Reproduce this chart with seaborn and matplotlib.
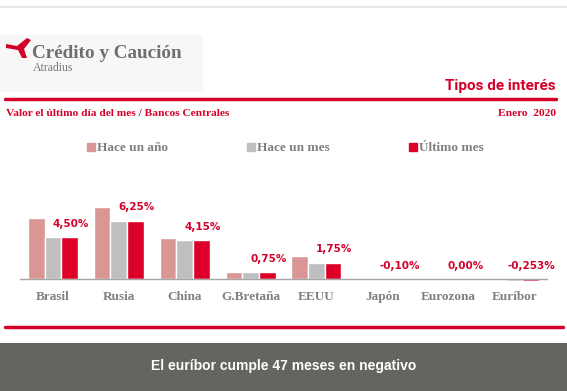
import numpy as np
import pandas as pd
import matplotlib.pyplot as plt
from matplotlib.patches import Rectangle, Polygon
from matplotlib.lines import Line2D
import seaborn as sns

# data (tipos de interés, enero 2020)
paises = ["Brasil", "Rusia", "China", "G.Bretaña", "EEUU", "Japón", "Eurozona", "Euríbor"]
hace_un_anio = [6.50, 7.75, 4.35, 0.75, 2.50, -0.10, 0.00, -0.117]
hace_un_mes = [4.50, 6.25, 4.15, 0.75, 1.75, -0.10, 0.00, -0.249]
ultimo_mes = [4.50, 6.25, 4.15, 0.75, 1.75, -0.10, 0.00, -0.253]
etiquetas = ["4,50%", "6,25%", "4,15%", "0,75%", "1,75%", "-0,10%", "0,00%", "-0,253%"]
series = ["Hace un año", "Hace un mes", "Último mes"]
colores = ["#d99694", "#bfbfbf", "#dc0028"]

rojo = "#d4002a"
gris_txt = "#7f7f7f"

df = pd.DataFrame({"pais": paises, series[0]: hace_un_anio,
                   series[1]: hace_un_mes, series[2]: ultimo_mes})
df = df.melt(id_vars="pais", var_name="serie", value_name="valor")

sns.set_style("white")
plt.rcParams['font.family'] = ['DejaVu Sans']

W, H = 567, 391
fig = plt.figure(figsize=(W / 100, H / 100), dpi=100)

# helper to convert pixel coords (from top) to figure fraction
def fx(x):
    return x / W

def fy(y):
    return 1 - y / H

# --- header ---
fig.add_artist(Line2D([0, 1], [fy(7), fy(7)], color="#e6e6e6", lw=1.5))
fig.add_artist(Rectangle((0, fy(92)), fx(203), (92 - 35) / H, color="#f7f7f7", lw=0))
# red swoosh of the logo
swoosh = [(6, 44), (17, 46), (27, 38), (31, 40), (24, 49), (27, 58), (22, 58), (18, 50), (6, 48)]
fig.add_artist(Polygon([(fx(a), fy(b)) for a, b in swoosh], closed=True, color="#d4002a", lw=0))
fig.text(fx(32), fy(58), "Crédito y Caución", fontsize=13.8, color="#6f6f6f",
         fontweight="bold", family="Liberation Serif", va="baseline", ha="left")
fig.text(fx(33), fy(71), "Atradius", fontsize=8.5, color="#7a7a7a",
         family="Liberation Serif", va="baseline", ha="left")
fig.text(fx(556), fy(86), "Tipos de interés", fontsize=11, color=rojo,
         fontweight="bold", family="Roboto", va="center", ha="right")
fig.add_artist(Line2D([fx(5), fx(556)], [fy(99), fy(99)], color=rojo, lw=2.5))
fig.text(fx(6), fy(113), "Valor el último día del mes / Bancos Centrales", fontsize=8.2,
         color=rojo, fontweight="bold", family="Liberation Serif", va="center", ha="left")
fig.text(fx(556), fy(113), "Enero  2020", fontsize=8.2,
         color=rojo, fontweight="bold", family="Liberation Serif", va="center", ha="right")

# --- chart ---
ppu = 9.33  # pixels per percentage point
ymin, ymax = -1.0, 10.0
base = 279
ax = fig.add_axes([fx(20), fy(base - ymin * ppu), fx(547) - fx(20), (ymax - ymin) * ppu / H])
sns.barplot(data=df, x="pais", y="valor", hue="serie", palette=colores,
            width=0.76, gap=0, saturation=1, ax=ax, legend=False)
ax.set_ylim(ymin, ymax)
ax.set_xlim(-0.5, len(paises) - 0.5)
for s in ["top", "right", "left"]:
    ax.spines[s].set_visible(False)
ax.spines["bottom"].set_position(("data", 0))
ax.spines["bottom"].set_color("#a6a6a6")
ax.spines["bottom"].set_linewidth(1)
ax.set_yticks([])
ax.set_xlabel("")
ax.set_ylabel("")
ax.set_xticks(np.arange(len(paises)))
ax.set_xticklabels(paises, fontsize=9.5, color=gris_txt, fontweight="bold",
                   family="Liberation Serif")
for lab in ax.get_xticklabels():
    lab.set_va("baseline")
ax.tick_params(axis="x", which="major", length=0, pad=15)
ax.set_xticks(np.arange(len(paises) + 1) - 0.5, minor=True)
ax.tick_params(axis="x", which="minor", length=4, color="#a6a6a6", width=1)

# value labels over the last bar of each group
for i, (v, t) in enumerate(zip(ultimo_mes, etiquetas)):
    ax.annotate(t, (i + 0.27, max(v, 0)), xytext=(0, 6), textcoords="offset points",
                ha="center", va="bottom", fontsize=7.5, color=rojo,
                fontweight="bold", family="DejaVu Sans")

# legend
handles = [Line2D([], [], marker="s", ls="", markersize=5.5, color=c) for c in colores]
fig.legend(handles, series, loc="center", bbox_to_anchor=(fx(285), fy(148)), ncol=3,
           frameon=False, handletextpad=0.15, columnspacing=5.9, handlelength=0.7,
           prop={"family": "Liberation Serif", "weight": "bold", "size": 9.5},
           labelcolor=gris_txt)

# --- footer ---
fig.add_artist(Line2D([fx(5), fx(563)], [fy(327), fy(327)], color=rojo, lw=2.5))
fig.add_artist(Rectangle((0, 0), 1, (391 - 343) / H, color="#66645e", lw=0))
fig.text(fx(284), fy(366), "El euríbor cumple 47 meses en negativo", fontsize=10,
         color="white", fontweight="bold", family="Liberation Sans", ha="center", va="center")

fig.savefig("out.png", dpi=100)
